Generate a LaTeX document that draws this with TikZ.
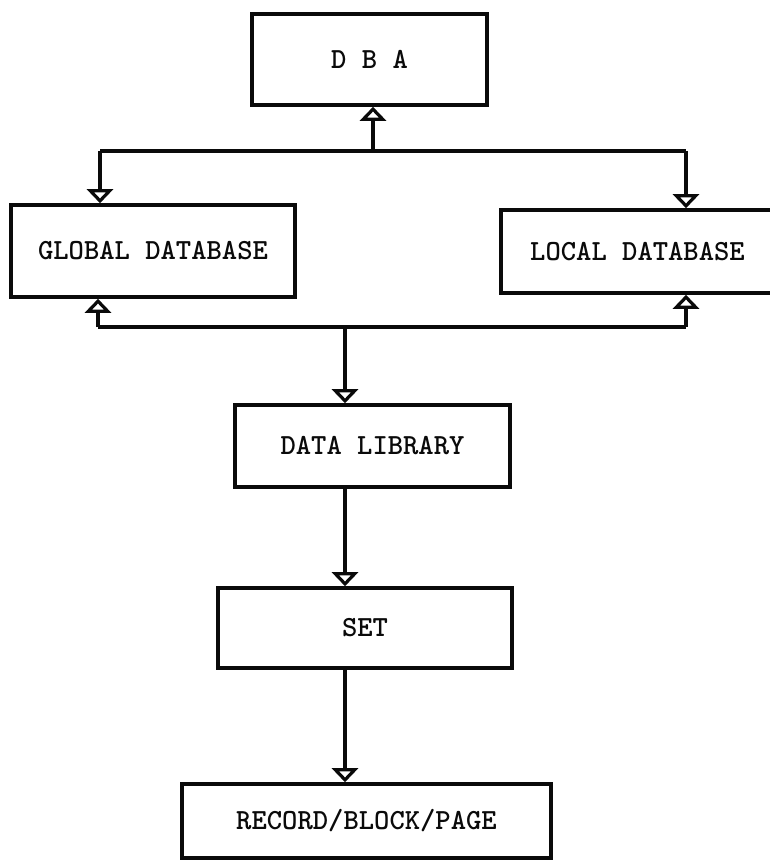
\documentclass[tikz,border=0pt]{standalone}
\usepackage{fontspec}
\usetikzlibrary{arrows.meta,positioning,calc}
\definecolor{ink}{HTML}{0A0A0A}

\begin{document}
\begin{tikzpicture}[x=0.5pt,y=-0.5pt,line width=1.6pt,draw=ink,
  font=\fontsize{14.6}{17}\selectfont\ttfamily\bfseries,
  box/.style={draw=ink,line width=1.8pt,inner sep=0pt,align=center,text=ink},
  arr/.style={-{Triangle[open,width=13pt,length=7pt]},draw=ink,line width=1.6pt}]
\useasboundingbox (0,0) rectangle (770,861);
% boxes
\node[box,minimum width=117.5pt,minimum height=45.5pt] (dba) at (369.5,59.5) {D B A};
\node[box,minimum width=142pt,minimum height=46pt] (gdb) at (153,251) {GLOBAL DATABASE};
\node[box,minimum width=136.5pt,minimum height=41.5pt] (ldb) at (637.5,251.5) {LOCAL DATABASE};
\node[box,minimum width=137.5pt,minimum height=41pt] (lib) at (372.5,446) {DATA LIBRARY};
\node[box,minimum width=147pt,minimum height=40pt] (set) at (365,628) {SET};
\node[box,minimum width=184.5pt,minimum height=37pt] (rec) at (366.5,821) {RECORD/BLOCK/PAGE};
% junctions
\coordinate (tl) at (100,151);
\coordinate (tr) at (686,151);
\coordinate (tm) at (373,151);
\coordinate (bl) at (98,327);
\coordinate (br) at (686,327);
\coordinate (bm) at (345,327);
% upper bus
\draw (tl) -- (tr);
\draw[arr] (tm) -- (tm |- dba.south);
\draw[arr] (tl) -- (tl |- gdb.north);
\draw[arr] (tr) -- (tr |- ldb.north);
% lower bus
\draw (bl) -- (br);
\draw[arr] (bl) -- (bl |- gdb.south);
\draw[arr] (br) -- (br |- ldb.south);
\draw[arr] (bm) -- (bm |- lib.north);
\draw[arr] (bm |- lib.south) -- (bm |- set.north);
\draw[arr] (bm |- set.south) -- (bm |- rec.north);
\end{tikzpicture}
\end{document}
